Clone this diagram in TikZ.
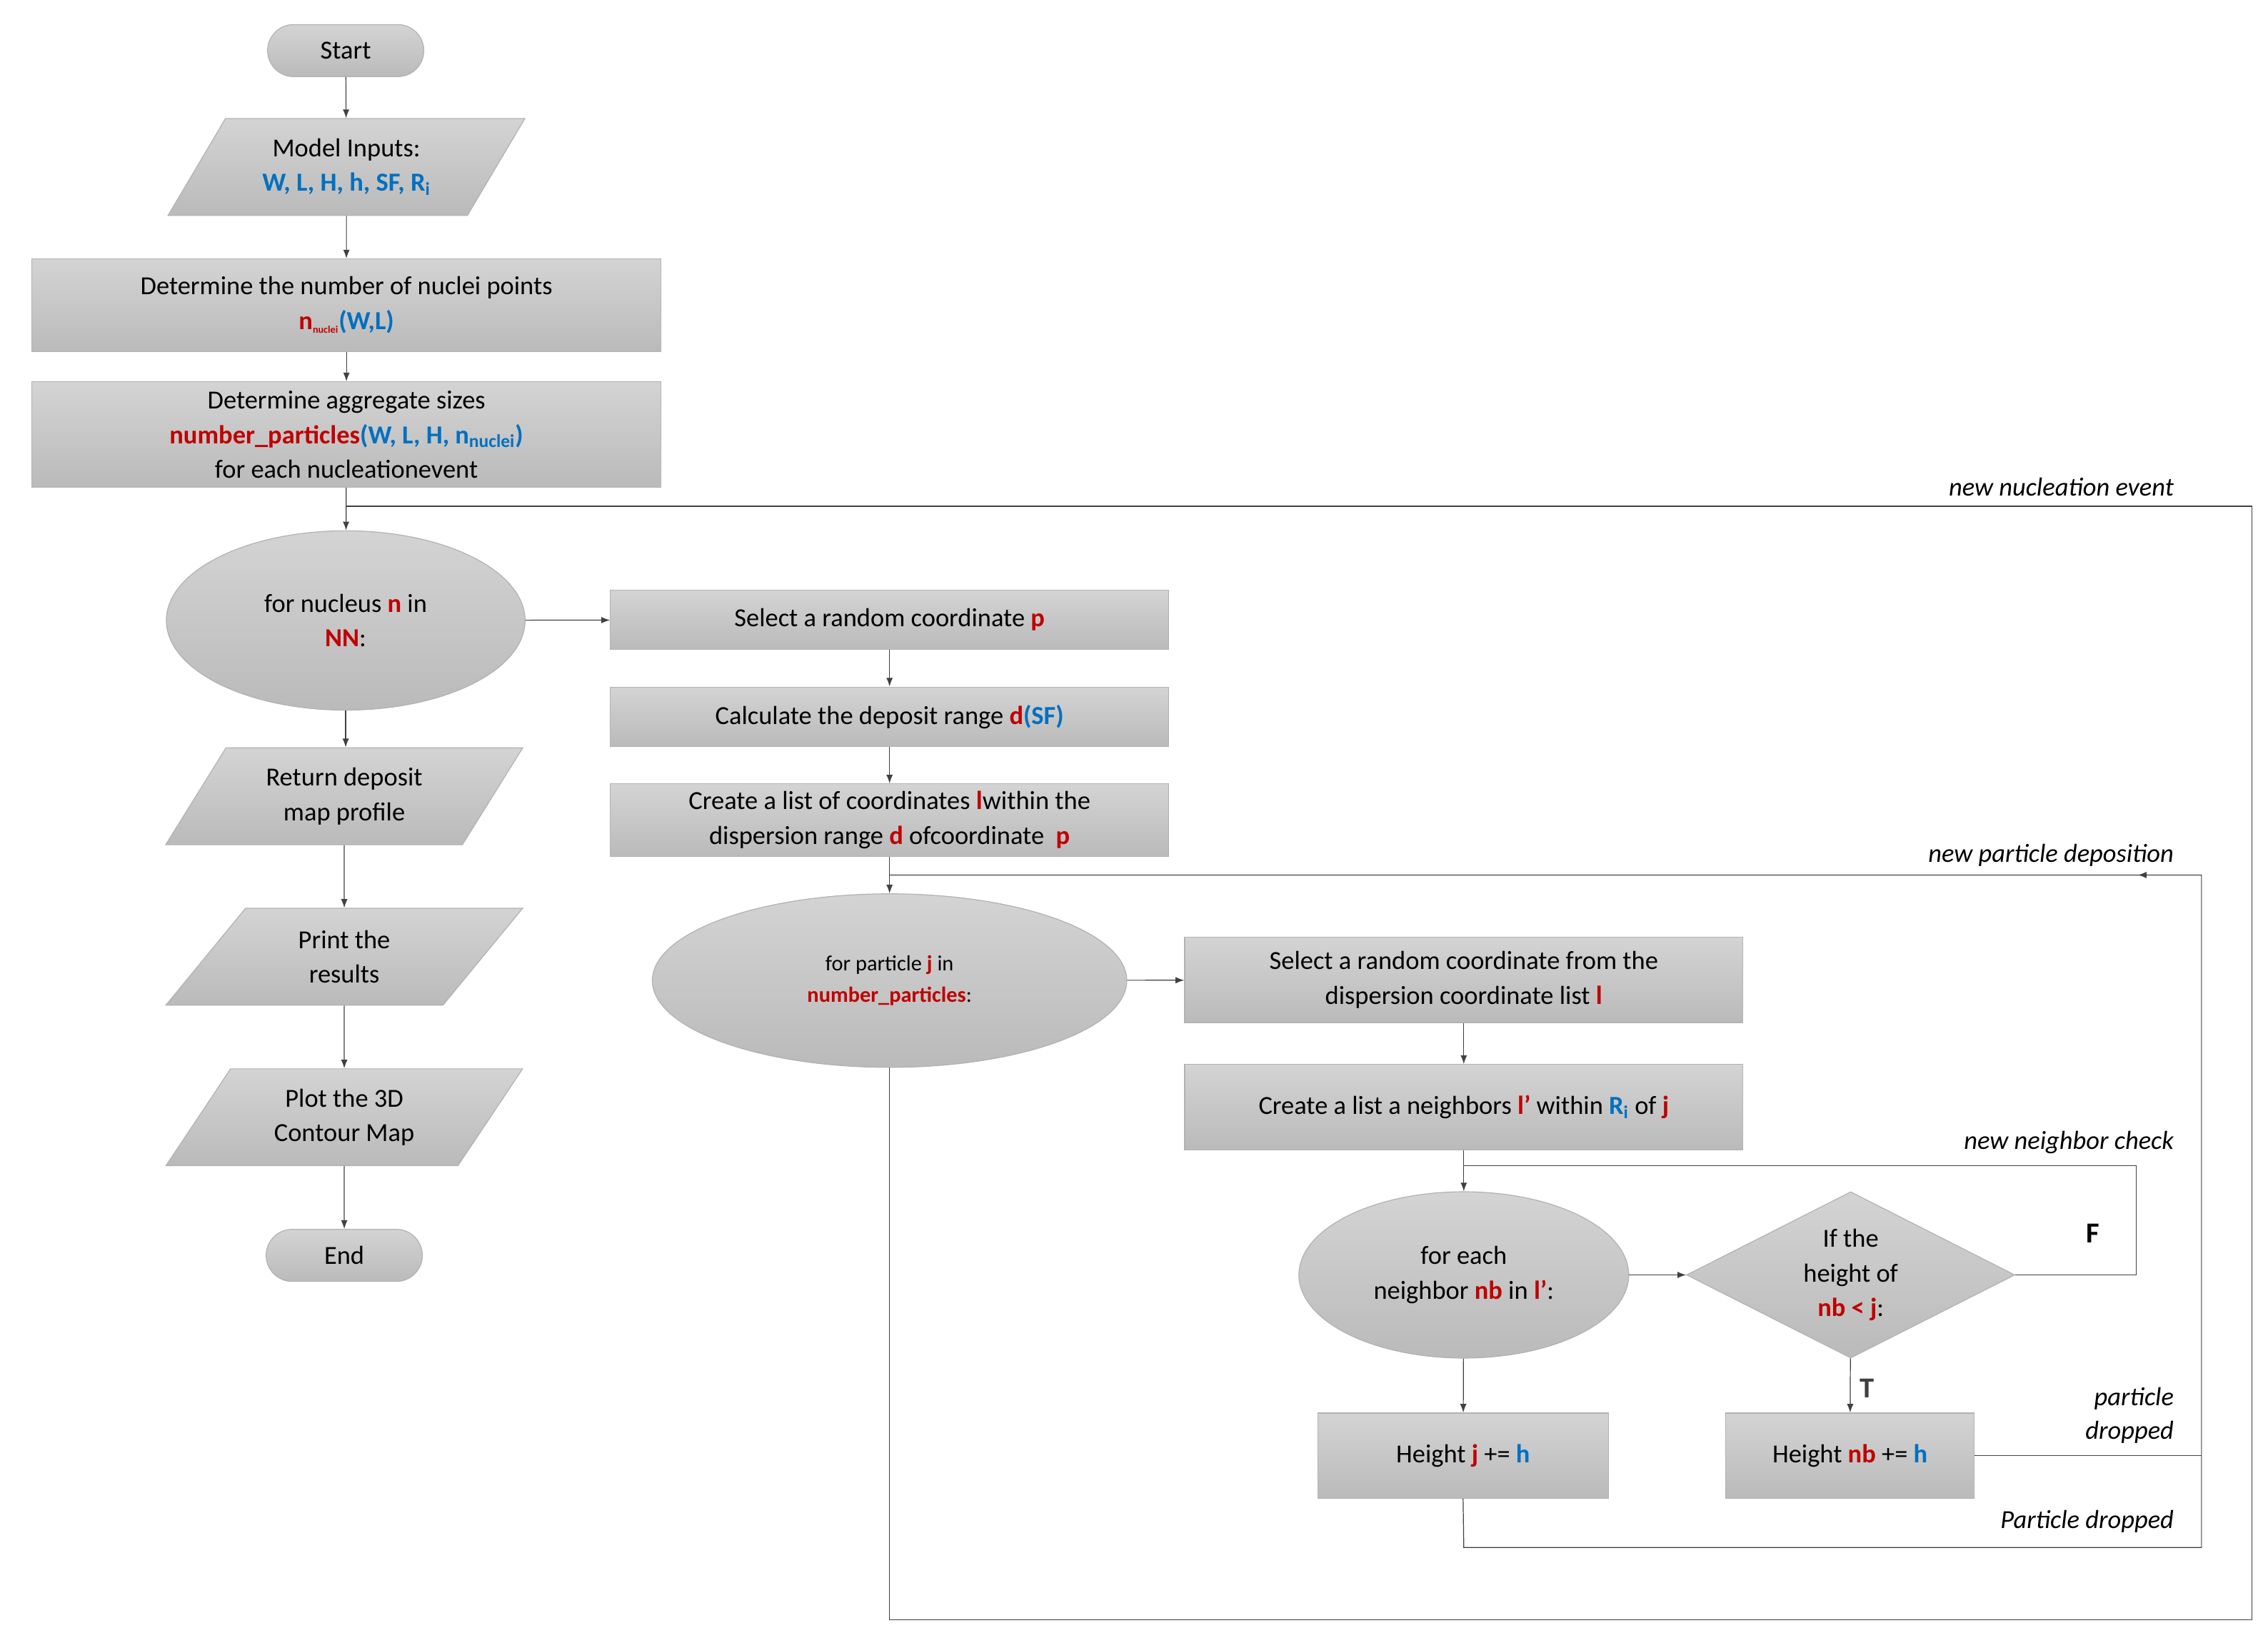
\documentclass[tikz,border=0pt]{standalone}
\usepackage{fontspec}
\setmainfont{Carlito}
\usetikzlibrary{shapes.geometric,arrows.meta,decorations.markings}
\definecolor{rd}{HTML}{C00000}
\definecolor{bl}{HTML}{0070C0}
\newcommand{\R}[1]{\textcolor{rd}{\textbf{#1}}}
\newcommand{\B}[1]{\textcolor{bl}{\textbf{#1}}}
\begin{document}
\begin{tikzpicture}[x=1pt,y=-1pt,font=\fontsize{18}{24}\selectfont,
 base/.style={draw=black!30,line width=0.6pt,top color=black!17,bottom color=black!27,inner sep=0pt,align=center},
 box/.style={base,rectangle,minimum width=386,minimum height=41},
 term/.style={base,rectangle,rounded corners=18,minimum width=108,minimum height=36},
 io/.style={base,trapezium,trapezium left angle=55,trapezium right angle=125,trapezium stretches=true,minimum width=247,minimum height=67},
 ell/.style={base,ellipse},
 dia/.style={base,diamond,aspect=2,minimum width=227,minimum height=115},
 ln/.style={line width=0.6pt,black!75},
 ar/.style={ln,-{Latex[length=6,width=4.5]}},
 lab/.style={font=\fontsize{18}{23}\selectfont\itshape,anchor=south east,align=right,inner sep=0pt}]
\useasboundingbox (0,0) rectangle (1568,1129);
\node[term] (start) at (239,35) {Start};
\node[io] (in) at (239.5,115.5) {Model Inputs:\\\B{W, L, H, h, SF, R$_{\mathbf i}$}};
\node[box,minimum width=435,minimum height=64] (b1) at (239.5,211) {Determine the number of nuclei points\\\R{n}$_{\textcolor{rd}{\textbf{\scriptsize nuclei}}}$\B{(W,L)}};
\node[box,minimum width=435,minimum height=73] (b2) at (239.5,300.5) {Determine aggregate sizes\\\R{number\_particles}\B{(W, L, H, n}\textsubscript{\B{nuclei}}\B{)}\\for each nucleationevent};
\node[ell,minimum width=248,minimum height=124] (nuc) at (239,429) {for nucleus \R{n} in\\\R{NN}:};
\node[io] (ret) at (238,550.5) {Return deposit\\map profile};
\node[io] (pr) at (238,661.5) {Print the\\results};
\node[io] (pl) at (238,772.5) {Plot the 3D\\Contour Map};
\node[term] (end) at (238,868) {End};
\node[box] (sp) at (615,428.5) {Select a random coordinate \R{p}};
\node[box] (cd) at (615,495.5) {Calculate the deposit range \R{d}\B{(SF)}};
\node[box,minimum height=50] (cl) at (615,567) {Create a list of coordinates \R{l}within the\\dispersion range \R{d} ofcoordinate\ \ \R{p}};
\node[ell,minimum width=328,minimum height=120,font=\fontsize{15}{22}\selectfont] (pe) at (615,678) {for particle \R{j} in\\\R{number\_particles}:};
\node[box,minimum height=59] (sr) at (1012,677.5) {Select a random coordinate from the\\dispersion coordinate list \R{l}};
\node[box,minimum height=59] (cn) at (1012,765.5) {Create a list a neighbors \R{l’} within \B{R}$_{\textcolor{bl}{\mathbf i}}$ of \R{j}};
\node[ell,minimum width=228,minimum height=115] (ne) at (1012,881.5) {for each\\neighbor \R{nb} in \R{l’}:};
\node[dia] (di) at (1279.5,881.5) {If the\\height of\\\R{nb < j}:};
\node[box,minimum width=201,minimum height=59] (hj) at (1011.5,1006.5) {Height \R{j} += \B{h}};
\node[box,minimum width=172,minimum height=59] (hn) at (1279,1006.5) {Height \R{nb} += \B{h}};
% main column
\draw[ar] (start) -- (in);
\draw[ar] (in) -- (b1);
\draw[ar] (b1) -- (b2);
\draw[ar] (b2) -- (nuc);
\draw[ar] (nuc.south) -- (ret.north -| nuc.south);
\draw[ar] (ret) -- (pr);
\draw[ar] (pr) -- (pl);
\draw[ar] (pl) -- (end);
\draw[ar] (nuc) -- (sp);
\draw[ar] (sp) -- (cd);
\draw[ar] (cd) -- (cl);
\draw[ar] (cl) -- (pe);
\draw[ar] (pe) -- (sr);
\draw[ar] (sr) -- (cn);
\draw[ar] (cn) -- (ne);
\draw[ar] (ne) -- (di);
\draw[ar] (di) -- node[right,font=\fontsize{20}{20}\selectfont\bfseries,xshift=3,yshift=-2]{T} (hn);
\draw[ar] (ne) -- (hj);
% loops
\coordinate (c1) at (1557,350);
\draw[ln] (pe.south) -- (615,1120) -- (1557,1120) -- (c1) -- (239,350);
\node[lab] at (1503,343) {new nucleation event};
\coordinate (c2) at (1522,605);
\draw[ln] (hj.south) -- (1012,1070) -- (1522,1070) -- (c2) -- (615,605);
\draw[ar] (1522,605) -- (1478,605);
\draw[ln] (hn.east) -- (1522,1006.5);
\node[lab] at (1503,599) {new particle deposition};
\coordinate (c3) at (1477,806);
\draw[ln] (di.east) -- (1477,881.5) -- (c3) -- (1012,806);
\node[lab] at (1503,798) {new neighbor check};
\node[font=\fontsize{20}{20}\selectfont\bfseries] at (1447,853) {F};
\node[lab] at (1503,998) {particle\\dropped};
\node[lab] at (1503,1060) {Particle dropped};
\end{tikzpicture}
\end{document}
